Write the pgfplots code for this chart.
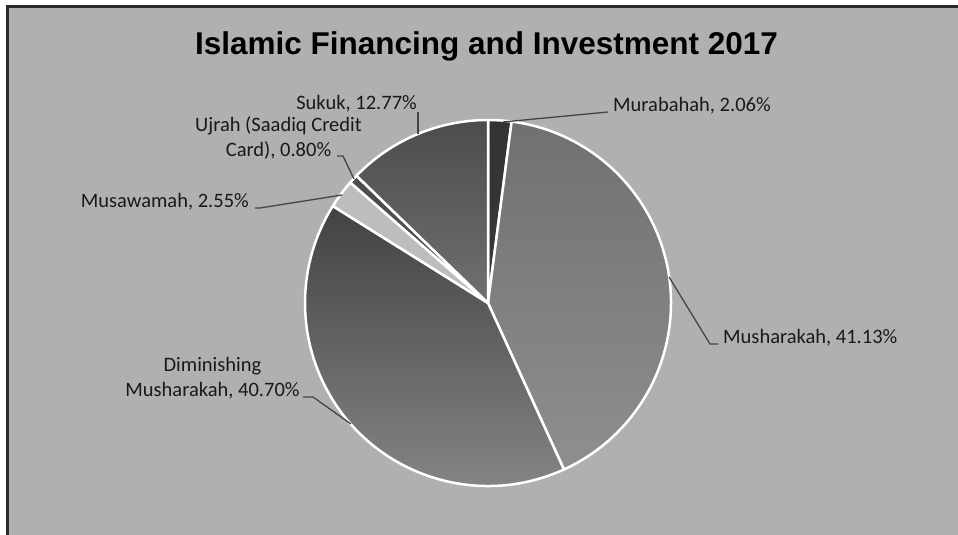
\documentclass[border=0pt]{standalone}
\usepackage{pgfplots}
\pgfplotsset{compat=1.18}
\usepackage{pgfplotstable}
\usepackage{fontspec}
\setmainfont{Carlito}
\newfontfamily\titlefont{Liberation Sans}
\definecolor{bg}{HTML}{B0B0B0}
\definecolor{frame}{HTML}{2A2A2A}
\definecolor{leader}{HTML}{454545}

\pgfplotstableread{
label value
Murabahah 2.06
Musharakah 41.13
Diminishing 40.70
Musawamah 2.55
Ujrah 0.80
Sukuk 12.77
}\piedata

\begin{document}
\begin{tikzpicture}
% cumulative angles (clockwise from the top)
\gdef\acc{90}
\foreach \i in {0,...,5}{%
  \pgfplotstablegetelem{\i}{value}\of\piedata
  \pgfmathsetmacro\e{\acc-3.6*\pgfplotsretval}%
  \expandafter\xdef\csname s\i\endcsname{\acc}%
  \expandafter\xdef\csname e\i\endcsname{\e}%
  \global\let\acc\e
}
\begin{axis}[
  at={(0,0)}, anchor=south west,
  scale only axis, width=958pt, height=535pt,
  xmin=0, xmax=958, ymin=0, ymax=535,
  hide axis, clip=false,
]
% background and frame
\fill[white] (axis cs:0,0) rectangle (axis cs:958,535);
\fill[bg] (axis cs:7,0) rectangle (axis cs:958,528);
\draw[frame, line width=3pt] (axis cs:7,0) -- (axis cs:7,528) -- (axis cs:958,528);

% title
\node[anchor=base, inner sep=0pt, font=\titlefont\bfseries\fontsize{31.5}{36}\selectfont]
  at (axis cs:486.5,480) {Islamic Financing and Investment 2017};

% pie slices
\newcommand\slice[2]{%
  \shadedraw[draw=white, line width=2.5pt, line join=round, #2]
    (axis cs:488,232) -- ++(\csname s#1\endcsname:183pt)
    arc[start angle=\csname s#1\endcsname, end angle=\csname e#1\endcsname, radius=183pt] -- cycle;}
\slice{0}{top color=black!80, bottom color=black!78}
\slice{1}{top color=black!56, bottom color=black!44}
\slice{2}{top color=black!74, bottom color=black!46}
\slice{3}{top color=black!26, bottom color=black!26}
\slice{4}{top color=black!70, bottom color=black!68}
\slice{5}{top color=black!70, bottom color=black!56}

% leader lines
\begin{scope}[leader, line width=1.3pt]
\draw (axis cs:608,423) -- (axis cs:503,413);
\draw (axis cs:718,191) -- (axis cs:710,191) -- (axis cs:669,258);
\draw (axis cs:303,138) -- (axis cs:313,138) -- (axis cs:351,111);
\draw (axis cs:255,327) -- (axis cs:260,327) -- (axis cs:342,340);
\draw (axis cs:337,379) -- (axis cs:343,379) -- (axis cs:354,356);
\draw (axis cs:418,423) -- (axis cs:418,401);
\end{scope}

% labels
\begin{scope}[every node/.style={inner sep=0pt, text=black!90, font=\fontsize{20.5}{24}\selectfont}]
\node[anchor=base west] at (axis cs:613,423) {Murabahah, 2.06\%};
\node[anchor=base west] at (axis cs:723,191) {Musharakah, 41.13\%};
\node[anchor=base] at (axis cs:212.5,163) {Diminishing};
\node[anchor=base] at (axis cs:212.5,138) {Musharakah, 40.70\%};
\node[anchor=base east] at (axis cs:249,327) {Musawamah, 2.55\%};
\node[anchor=base] at (axis cs:278.5,403) {Ujrah (Saadiq Credit};
\node[anchor=base] at (axis cs:278.5,378) {Card), 0.80\%};
\node[anchor=base east] at (axis cs:417,425) {Sukuk, 12.77\%};
\end{scope}
\end{axis}
\pgfresetboundingbox
\path[use as bounding box] (0,0) rectangle (958pt,535pt);
\end{tikzpicture}
\end{document}
